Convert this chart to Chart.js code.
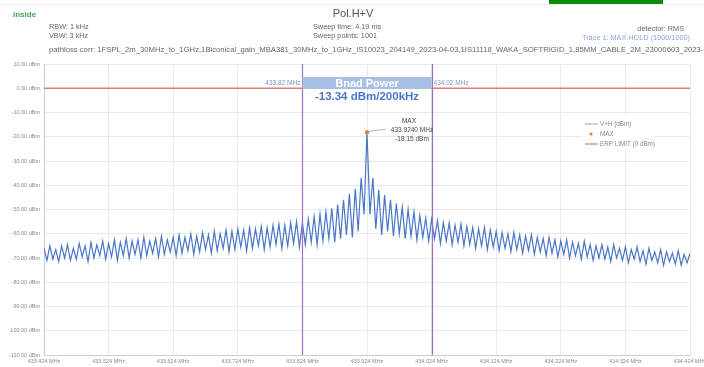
<!DOCTYPE html>
<html>
<head>
<meta charset="utf-8">
<script src="https://cdn.jsdelivr.net/npm/chart.js@4.4.0/dist/chart.umd.min.js"></script>
<style>
  html, body { margin: 0; padding: 0; background: #fff; }
  #wrap { width: 704px; height: 367px; }
</style>
</head>
<body>
<div id="wrap"><canvas id="spec" width="704" height="367"></canvas></div>
<script>
// sweep span (MHz), evenly spaced trace points
const FREQ_START = 433.424;
const FREQ_STOP = 434.424;

// trace 1, max hold (dBm)
const traceLeft = [
  -66, -71, -65, -70.5, -66.5, -71.5, -65, -70, -64.5, -71,
  -66, -70.5, -64, -69.5, -65, -71.5, -63.5, -70, -64.5, -69,
  -63, -70.5, -64, -69.5, -62.5, -71, -63.5, -69, -62, -70,
  -63, -68.5, -62.5, -70, -61.5, -69, -63, -68, -62, -69.5,
  -61, -68.5, -62.5, -67.5, -61.5, -69, -60.5, -68, -61.5, -67,
  -60, -68.5, -61, -67.5, -59.5, -66.5, -60.5, -68, -59, -67,
  -60, -66, -58.5, -67.5, -59, -66.5, -58, -65.5, -58.5, -67,
  -57.5, -66, -58, -65, -57, -66.5, -57.5, -65.5, -56.5, -64.5,
  -56, -66, -56.5, -65, -55.5, -64, -55, -65.5, -55.5, -64.5,
  -54, -63.5, -53, -64.5, -52, -63, -51, -62, -49.5, -63.5,
  -48, -62, -46, -60.5, -43.5, -61.5, -41.5, -59, -37, -52
];
const tracePeak = [-18.15];
const traceRight = [
  -52,
  -37, -58, -42, -60.5, -44, -59, -46, -61, -47.5, -60,
  -49, -62, -50, -61, -51, -62.5, -52.5, -61.5, -53.5, -63,
  -54, -62, -54.5, -64, -55.5, -63, -55.5, -64.5, -56.5, -63.5,
  -56, -65, -57, -64.5, -57.5, -66, -58, -65, -57.5, -66.5,
  -58.5, -65.5, -59, -67, -59.5, -66, -60, -67.5, -59.5, -66.5,
  -60.5, -68, -61, -67, -60.5, -68.5, -61.5, -67.5, -62, -69,
  -61.5, -68, -62.5, -69.5, -63, -68.5, -62.5, -70, -63.5, -69,
  -64, -70.5, -63, -69.5, -64.5, -71, -65, -70, -64.5, -70.5,
  -65.5, -71.5, -64.5, -70, -66, -71, -65.5, -72, -66.5, -70.5,
  -65.5, -71.5, -67, -72.5, -66, -71, -67.5, -72, -66.5, -73,
  -67.5, -71.5, -68, -72.5, -67, -73, -68.5, -72, -68
];

const xTicks = [433.424, 433.524, 433.624, 433.724, 433.824, 433.924,
                434.024, 434.124, 434.224, 434.324, 434.424];
const Y_MIN = -110, Y_MAX = 10, Y_STEP = 10;

const maxFreq = 433.924;
const maxDbm = -18.15;
const limitDbm = 0;
const bandEdges = [433.824, 434.024];
const bandPowerText = '-13.34 dBm/200kHz';

const traceDbm = traceLeft.concat(tracePeak, traceRight);
const stepMHz = (FREQ_STOP - FREQ_START) / (traceDbm.length - 1);
const tracePts = traceDbm.map((v, i) => ({ x: FREQ_START + i * stepMHz, y: v }));

const FONT = '"Liberation Sans", Arial, sans-serif';
const BLUE = '#4a76c6';
const ORANGE = '#ed7d31';
const RED = '#e07b7b';
const PURPLE = '#9a70c2';

// header, band edges, band power box, marker text, legend
const overlay = {
  id: 'overlay',
  afterDatasetsDraw(chart) {
    const { ctx, chartArea } = chart;
    const xs = chart.scales.x, ys = chart.scales.y;
    ctx.save();

    // band edge markers
    ctx.strokeStyle = PURPLE;
    ctx.lineWidth = 1.2;
    bandEdges.forEach(f => {
      const px = Math.round(xs.getPixelForValue(f)) + 0.5;
      ctx.beginPath();
      ctx.moveTo(px, chartArea.top);
      ctx.lineTo(px, chartArea.bottom);
      ctx.stroke();
    });

    // band power banner
    const bx0 = xs.getPixelForValue(bandEdges[0]);
    const bx1 = xs.getPixelForValue(bandEdges[1]);
    ctx.fillStyle = '#a9c0e6';
    ctx.fillRect(bx0, 77, bx1 - bx0, 12);
    ctx.fillStyle = '#ffffff';
    ctx.font = 'bold 11px ' + FONT;
    ctx.textAlign = 'center';
    ctx.textBaseline = 'middle';
    ctx.fillText('Bnad Power', (bx0 + bx1) / 2, 83.5);

    ctx.font = '6.5px ' + FONT;
    ctx.fillStyle = '#7d92c4';
    ctx.textAlign = 'right';
    ctx.fillText('433.82 MHz', bx0 - 2, 83);
    ctx.textAlign = 'left';
    ctx.fillText('434.02 MHz', bx1 + 2, 83);

    ctx.font = 'bold 11.5px ' + FONT;
    ctx.fillStyle = '#4a78c8';
    ctx.textAlign = 'center';
    ctx.fillText(bandPowerText, 367, 97);

    // max marker label
    const mx = xs.getPixelForValue(maxFreq), my = ys.getPixelForValue(maxDbm);
    ctx.strokeStyle = '#9a9a9a';
    ctx.lineWidth = 0.7;
    ctx.beginPath();
    ctx.moveTo(mx + 2, my - 1);
    ctx.lineTo(mx + 19, my - 3);
    ctx.stroke();
    ctx.font = '6.5px ' + FONT;
    ctx.fillStyle = '#444';
    ctx.textAlign = 'center';
    ctx.fillText('MAX', 409, 121);
    ctx.fillText(maxFreq.toFixed(4) + ' MHz', 412, 130);
    ctx.fillText(maxDbm.toFixed(2) + ' dBm', 412, 139);

    // legend
    ctx.fillStyle = '#ffffff';
    ctx.fillRect(582, 116, 72, 34);
    ctx.lineWidth = 1.2;
    ctx.strokeStyle = '#9db5e0';
    ctx.beginPath(); ctx.moveTo(585, 124); ctx.lineTo(598, 124); ctx.stroke();
    ctx.fillStyle = ORANGE;
    ctx.beginPath(); ctx.arc(591, 134, 1.6, 0, Math.PI * 2); ctx.fill();
    ctx.strokeStyle = RED;
    ctx.beginPath(); ctx.moveTo(585, 144); ctx.lineTo(598, 144); ctx.stroke();
    ctx.font = '6.3px ' + FONT;
    ctx.fillStyle = '#888';
    ctx.textAlign = 'left';
    ctx.fillText('V+H (dBm)', 600, 124);
    ctx.fillText('MAX', 600, 134);
    ctx.fillText('ERP LIMIT (0 dBm)', 600, 144);

    ctx.restore();
  },
  afterDraw(chart) {
    const { ctx } = chart;
    ctx.save();
    ctx.fillStyle = '#0b8a0b';
    ctx.fillRect(549, 0, 114, 4);
    ctx.fillStyle = '#eeeeee';
    ctx.fillRect(0, 4, 704, 1);

    ctx.textBaseline = 'middle';
    ctx.textAlign = 'left';
    ctx.font = 'bold 8px ' + FONT;
    ctx.fillStyle = '#3aa655';
    ctx.fillText('inside', 13, 15);

    ctx.font = '7.3px ' + FONT;
    ctx.fillStyle = '#666';
    ctx.fillText('RBW: 1 kHz', 49, 27);
    ctx.fillText('VBW: 3 kHz', 49, 36);
    ctx.fillText('Sweep time: 4.19 ms', 313, 27);
    ctx.fillText('Sweep points: 1001', 313, 36);
    ctx.font = '7.7px ' + FONT;
    ctx.fillText('pathloss corr: 1FSPL_2m_30MHz_to_1GHz,1Biconical_gain_MBA381_30MHz_to_1GHz_IS10023_204149_2023-04-03,1IS11118_WAKA_SOFTRIGID_1,85MM_CABLE_2M_23000603_2023-04-03', 49, 50);
    ctx.font = '7.3px ' + FONT;
    ctx.textAlign = 'right';
    ctx.fillText('detector: RMS', 684, 29);
    ctx.fillStyle = '#86a6dc';
    ctx.fillText('Trace 1: MAX HOLD (1000/1000)', 690, 38);

    ctx.font = '11px ' + FONT;
    ctx.fillStyle = '#555';
    ctx.textAlign = 'center';
    ctx.fillText('Pol.H+V', 353, 14);
    ctx.restore();
  }
};

new Chart(document.getElementById('spec'), {
  type: 'line',
  data: {
    datasets: [
      {
        label: 'MAX',
        data: [{ x: maxFreq, y: maxDbm }],
        showLine: false,
        pointRadius: 2.2,
        pointBorderWidth: 0,
        pointBackgroundColor: ORANGE,
        pointBorderColor: ORANGE,
      },
      {
        label: 'V+H (dBm)',
        data: tracePts,
        borderColor: BLUE,
        borderWidth: 1.2,
        pointRadius: 0,
        tension: 0,
      },
      {
        label: 'ERP LIMIT (0 dBm)',
        data: [{ x: FREQ_START, y: limitDbm }, { x: FREQ_STOP, y: limitDbm }],
        borderColor: RED,
        borderWidth: 1.5,
        pointRadius: 0,
      },
    ],
  },
  options: {
    responsive: false,
    animation: false,
    devicePixelRatio: 1,
    layout: { padding: { top: 64, right: 14, bottom: 0, left: 0 } },
    plugins: { legend: { display: false }, tooltip: { enabled: false } },
    scales: {
      x: {
        type: 'linear',
        min: FREQ_START,
        max: FREQ_STOP,
        afterBuildTicks: scale => { scale.ticks = xTicks.map(v => ({ value: v })); },
        afterFit: scale => { scale.height = 12; scale.paddingLeft = 0; scale.paddingRight = 0; },
        grid: { color: '#e6e9ef', lineWidth: 1, drawTicks: false },
        border: { color: '#c9ced8' },
        ticks: {
          color: '#8a8a8a',
          font: { family: FONT, size: 5.5 },
          padding: 3,
          maxRotation: 0,
          autoSkip: false,
          callback: v => v.toFixed(3) + ' MHz',
        },
      },
      y: {
        min: Y_MIN,
        max: Y_MAX,
        afterFit: scale => { scale.width = 44; scale.paddingTop = 0; scale.paddingBottom = 0; },
        grid: { color: '#e6e9ef', lineWidth: 1, drawTicks: false },
        border: { color: '#c9ced8' },
        ticks: {
          stepSize: Y_STEP,
          color: '#8a8a8a',
          font: { family: FONT, size: 5.5 },
          padding: 4,
          callback: v => v.toFixed(2) + ' dBm',
        },
      },
    },
  },
  plugins: [overlay],
});
</script>
</body>
</html>
